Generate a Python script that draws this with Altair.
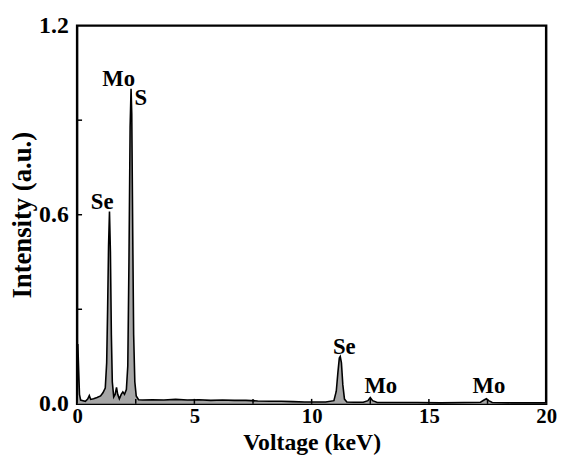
import altair as alt
import pandas as pd

# Spectrum (energy in keV, intensity in a.u.)
energy = [0.00, 0.03, 0.06, 0.10, 0.15, 0.25, 0.35, 0.45, 0.52, 0.58, 0.70, 0.85, 1.00, 1.10,
          1.20, 1.26, 1.30, 1.34, 1.38, 1.42, 1.46, 1.50, 1.56, 1.62, 1.68, 1.73, 1.80, 1.88,
          1.95, 2.02, 2.10, 2.16, 2.21, 2.26, 2.30, 2.33, 2.37, 2.41, 2.46, 2.52, 2.62, 2.80,
          3.2, 3.7, 4.2, 4.7, 5.2, 5.7, 6.2, 6.7, 7.2, 7.7, 8.2, 8.7, 9.2, 9.7, 10.2, 10.6,
          10.95, 11.05, 11.12, 11.18, 11.22, 11.27, 11.33, 11.40, 11.50, 11.8, 12.2, 12.40,
          12.50, 12.60, 12.8, 13.5, 14.5, 15.5, 16.5, 17.2, 17.35, 17.45, 17.55, 17.7, 18.5,
          19.3, 20.0]
intensity = [0.00, 0.19, 0.12, 0.03, 0.012, 0.010, 0.008, 0.015, 0.026, 0.014, 0.016, 0.020,
             0.025, 0.035, 0.050, 0.13, 0.30, 0.50, 0.61, 0.48, 0.22, 0.07, 0.022, 0.030,
             0.052, 0.030, 0.016, 0.030, 0.038, 0.030, 0.045, 0.12, 0.45, 0.88, 1.00, 0.92,
             0.55, 0.22, 0.07, 0.025, 0.013, 0.012, 0.013, 0.012, 0.014, 0.012, 0.013, 0.011,
             0.012, 0.011, 0.011, 0.009, 0.008, 0.008, 0.007, 0.006, 0.006, 0.006, 0.010,
             0.04, 0.10, 0.145, 0.15, 0.13, 0.06, 0.015, 0.006, 0.005, 0.005, 0.010, 0.020,
             0.010, 0.004, 0.004, 0.004, 0.003, 0.004, 0.005, 0.012, 0.016, 0.010, 0.004,
             0.003, 0.003, 0.003]

# Peak labels
label_text = ["Se", "Mo", "S", "Se", "Mo", "Mo"]
label_x = [1.07, 1.77, 2.72, 11.39, 12.95, 17.56]
label_y = [0.64, 1.03, 0.97, 0.18, 0.055, 0.055]

# Inward tick positions
x_ticks = [2.5, 5, 7.5, 10, 12.5, 15, 17.5]
y_ticks = [0.3, 0.6, 0.9]
x_labels = [0, 5, 10, 15, 20]
y_labels = [0.0, 0.6, 1.2]

W, H = 475, 383
FONT = "Liberation Serif"

spec = pd.DataFrame({"E": energy, "I": intensity})
labels = pd.DataFrame({"t": label_text, "x": label_x, "y": label_y})

xscale = alt.Scale(domain=[0, 20], nice=False, zero=False)
yscale = alt.Scale(domain=[0, 1.2], nice=False)

xaxis = alt.Axis(values=x_labels, format="d", ticks=False, domain=False, grid=False,
                 labelFlush=False, labelPadding=2, labelFontSize=21, title="Voltage (keV)",
                 titleBaseline="alphabetic", titleY=46, titleFontSize=24)
yaxis = alt.Axis(values=y_labels, format=".1f", ticks=False, domain=False, grid=False,
                 labelFlush=False, labelPadding=9, title="Intensity (a.u.)",
                 titleBaseline="alphabetic", titleX=-47)

area = alt.Chart(spec).mark_area(color="#a6a6a6", opacity=1).encode(
    x=alt.X("E:Q", scale=xscale, axis=xaxis),
    y=alt.Y("I:Q", scale=yscale, axis=yaxis),
)
line = alt.Chart(spec).mark_line(color="black", strokeWidth=1.6).encode(
    x=alt.X("E:Q", scale=xscale),
    y=alt.Y("I:Q", scale=yscale),
)
text = alt.Chart(labels).mark_text(font=FONT, fontWeight="bold", fontSize=23,
                                   color="black", baseline="middle").encode(
    x=alt.X("x:Q", scale=xscale),
    y=alt.Y("y:Q", scale=yscale),
    text="t:N",
)
xt = alt.Chart(pd.DataFrame({"v": x_ticks})).mark_rule(color="black", strokeWidth=1.5).encode(
    x=alt.X("v:Q", scale=xscale),
    y=alt.value(H),
    y2=alt.value(H - 5),
)
yt = alt.Chart(pd.DataFrame({"v": y_ticks})).mark_rule(color="black", strokeWidth=1.5).encode(
    y=alt.Y("v:Q", scale=yscale),
    x=alt.value(0),
    x2=alt.value(5),
)

chart = alt.layer(area, line, xt, yt, text).properties(
    width=W, height=H,
    autosize=alt.AutoSizeParams(type="none"),
    padding={"left": 70, "top": 15, "right": 13, "bottom": 51},
).configure(background="white").configure_view(
    stroke="black", strokeWidth=2.5
).configure_axis(
    labelFont=FONT, labelFontWeight="bold", labelFontSize=24, labelColor="black",
    titleFont=FONT, titleFontWeight="bold", titleFontSize=27, titleColor="black",
)

chart.save("out.html", embed_options={"renderer": "svg", "actions": False})
